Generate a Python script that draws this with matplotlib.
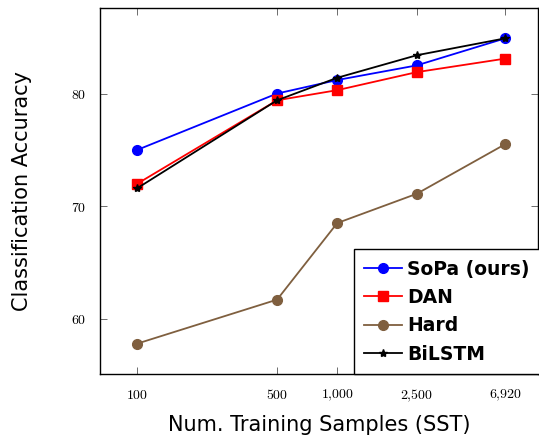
import matplotlib.pyplot as plt

plt.rcParams['mathtext.fontset'] = 'cm'

# training set sizes (SST) and accuracies
samples = [100, 500, 1000, 2500, 6920]
tick_labels = [r'$100$', r'$500$', r'$1{,}000$', r'$2{,}500$', r'$6{,}920$']
sopa = [75.0, 80.0, 81.2, 82.5, 84.9]
dan = [72.0, 79.4, 80.3, 81.9, 83.1]
hard = [57.8, 61.7, 68.5, 71.1, 75.5]
bilstm = [71.6, 79.4, 81.4, 83.4, 84.9]

fig = plt.figure(figsize=(5.39, 4.41), dpi=100)
ax = fig.add_axes([0.1855, 0.152, 0.8126, 0.830])

ax.plot(samples, sopa, '-o', color='blue', ms=7, lw=1.3, label='SoPa (ours)')
ax.plot(samples, dan, '-s', color='red', ms=7, lw=1.3, label='DAN')
ax.plot(samples, hard, '-o', color='#7f5f3f', ms=7, lw=1.3, label='Hard')
ax.plot(samples, bilstm, '-*', color='black', ms=6, lw=1.3, label='BiLSTM')

ax.set_xscale('log')
ax.set_xlim(65, 10100)
ax.set_ylim(55.1, 87.6)
ax.set_xticks(samples)
ax.set_xticklabels(tick_labels, fontsize=10)
ax.minorticks_off()
ax.set_yticks([60, 70, 80])
ax.set_yticklabels([r'$60$', r'$70$', r'$80$'], fontsize=10)
ax.tick_params(direction='in', top=True, right=True, length=5, width=0.6,
               color='#555555', pad=10)
for s in ax.spines.values():
    s.set_linewidth(1.0)

ax.set_xlabel('Num. Training Samples (SST)', fontsize=15, labelpad=8)
ax.set_ylabel('Classification Accuracy', fontsize=15, labelpad=28)

leg = ax.legend(loc='lower left', bbox_to_anchor=(0.58, 0.0),
                prop={'weight': 'bold', 'size': 13.5}, fancybox=False,
                edgecolor='black', framealpha=1, handlelength=2.0,
                handletextpad=0.3, labelspacing=0.5, borderpad=0.55,
                borderaxespad=0)
leg.get_frame().set_linewidth(1.0)

fig.savefig('out.png', dpi=100)
